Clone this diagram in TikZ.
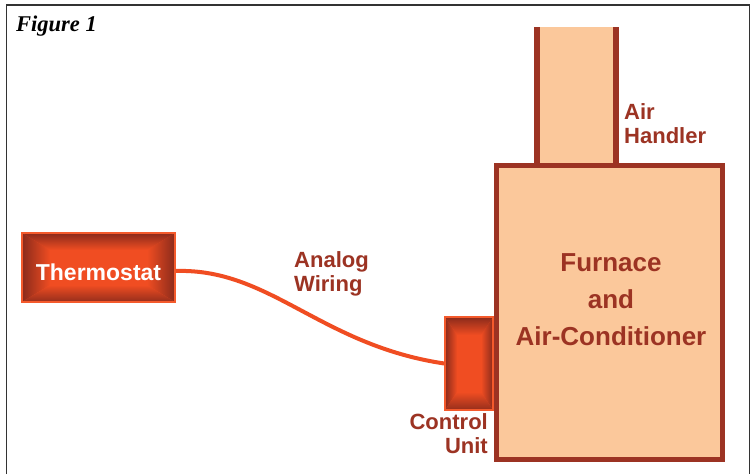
\documentclass[tikz,border=0pt]{standalone}
\usepackage{fontspec}
\setmainfont{Liberation Sans}
\newfontfamily\figfont{Liberation Serif}
\usetikzlibrary{calc}
\definecolor{darkredc}{HTML}{9C3323}
\definecolor{peachc}{HTML}{FBC89B}
\definecolor{orangec}{HTML}{F04D22}
\definecolor{bevdark}{HTML}{8A2A1B}
\definecolor{edgeorange}{HTML}{F45A2C}
\definecolor{framegray}{HTML}{333333}
\tikzset{
  bevelfill/.style 2 args={path picture={
    \coordinate (bsw) at (path picture bounding box.south west);
    \coordinate (bse) at (path picture bounding box.south east);
    \coordinate (bnw) at (path picture bounding box.north west);
    \coordinate (bne) at (path picture bounding box.north east);
    \coordinate (isw) at ($(bsw)+(#1,#2)$);
    \coordinate (ise) at ($(bse)+(-#1,#2)$);
    \coordinate (inw) at ($(bnw)+(#1,-#2)$);
    \coordinate (ine) at ($(bne)+(-#1,-#2)$);
    \fill[orangec] (bsw) rectangle (bne);
    \shade[left color=bevdark, right color=orangec] (bsw) -- (isw) -- (inw) -- (bnw) -- cycle;
    \shade[left color=orangec, right color=bevdark] (bse) -- (ise) -- (ine) -- (bne) -- cycle;
    \shade[top color=bevdark, bottom color=orangec] (bnw) -- (inw) -- (ine) -- (bne) -- cycle;
    \shade[top color=orangec, bottom color=bevdark!90!orangec] (bsw) -- (isw) -- (ise) -- (bse) -- cycle;
  }},
  gradbox/.style={draw=edgeorange, line width=1.5pt, inner sep=0pt},
  lbl/.style={text=darkredc, font=\bfseries\fontsize{22}{24.5}\selectfont, inner sep=0pt},
  wire/.style={draw=orangec, line width=4pt},
  unitline/.style={draw=darkredc, line width=5pt},
}
\begin{document}
\begin{tikzpicture}[x=1pt, y=-1pt]
\useasboundingbox (0,0) rectangle (754,474);
\fill[white] (0,0) rectangle (754,474);
% frame
\draw[framegray, line width=1.5pt] (6.5,474) -- (6.5,5) -- (749.5,5) -- (749.5,474);
\node[anchor=base west, inner sep=0pt, font=\figfont\bfseries\itshape\fontsize{22.5}{24}\selectfont] (fig) at (16,31) {Figure 1};
% air handler
\fill[peachc] (534,27) rectangle (619,166);
\coordinate (ahtl) at (537,27);
\coordinate (ahtr) at (616,27);
\coordinate (ahbl) at (537,166);
\coordinate (ahbr) at (616,166);
\draw[darkredc, line width=6pt] (ahtl) -- (ahbl);
\draw[darkredc, line width=6pt] (ahtr) -- (ahbr);
% furnace
\node[unitline, fill=peachc, minimum width=226pt, minimum height=294pt, inner sep=0pt] (furnace) at (609.5,312.5) {};
\node[lbl, font=\bfseries\fontsize{26}{37}\selectfont, align=center] (furntext) at (611,300) {Furnace\\and\\Air-Conditioner};
\node[lbl, anchor=north west, align=left] (ahtext) at (624,103) {Air\\Handler};
% thermostat
\node[gradbox, bevelfill={28pt}{17pt}, minimum width=153pt, minimum height=69pt, text=white, font=\bfseries\fontsize{23}{26}\selectfont, text height=25pt, text depth=0pt] (thermo) at (98.5,267.5) {Thermostat};
% control unit
\node[gradbox, bevelfill={12pt}{18pt}, minimum width=48pt, minimum height=93pt] (ctrl) at (469,363.5) {};
\node[lbl, anchor=north east, align=right] (ctrltext) at (488,413) {Control\\Unit};
% wire
\draw[wire] ([yshift=-3.5pt]thermo.east) .. controls (270,268) and (320,345) .. (ctrl.west);
\node[lbl, anchor=north west, align=left] (wiretext) at (294,251) {Analog\\Wiring};
\end{tikzpicture}
\end{document}
